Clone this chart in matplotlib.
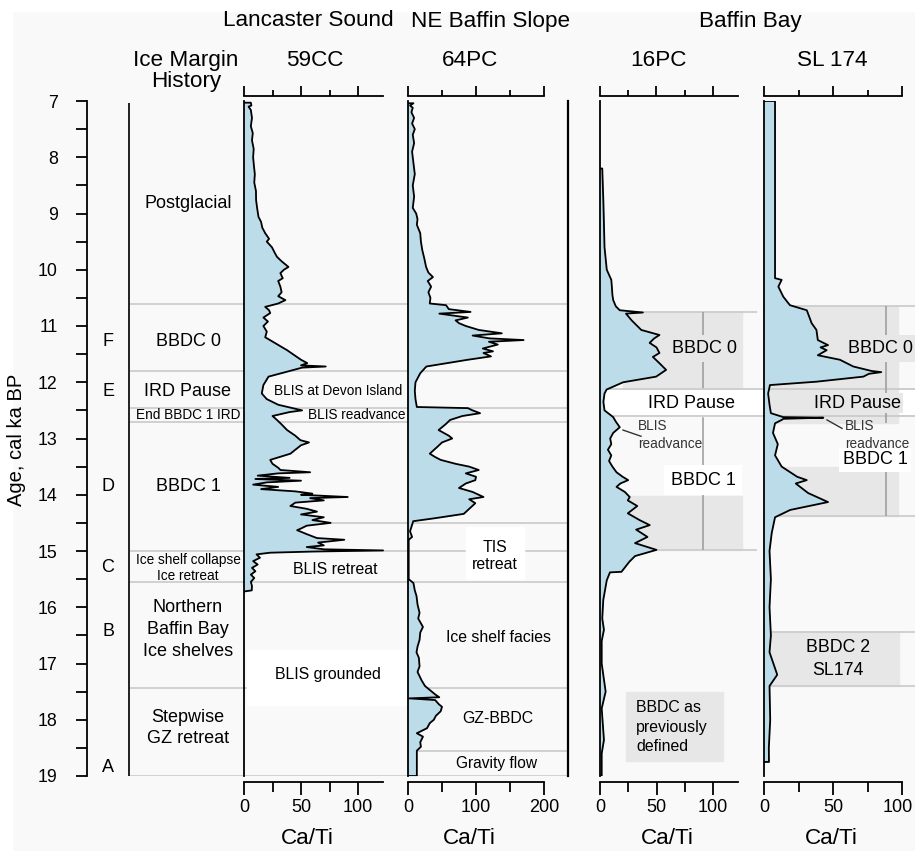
import numpy as np
import matplotlib.pyplot as plt
from matplotlib.patches import Rectangle
from matplotlib.transforms import ScaledTranslation

plt.rcParams['font.family'] = ['Liberation Sans', 'DejaVu Sans']

# ---------------------------------------------------------------- data
# (age ka BP, Ca/Ti)
core_59cc = [
    (7.03, 0), (7.03, 6), (7.08, 6.5), (7.1, 4), (7.16, 6), (7.3, 7), (7.45, 6),
    (7.57, 7.7), (7.7, 7), (7.85, 8.5), (8.0, 8), (8.17, 8.8), (8.3, 9.5), (8.45, 9),
    (8.6, 10.5), (8.76, 10.6), (8.9, 11.5), (9.06, 12.7), (9.15, 15), (9.25, 16),
    (9.35, 18.6), (9.45, 22), (9.5, 20), (9.6, 24.5), (9.7, 27), (9.77, 28.9),
    (9.85, 33), (9.9, 36), (9.95, 39), (10.0, 35), (10.06, 31.9), (10.15, 34),
    (10.2, 30), (10.3, 31.9), (10.4, 33), (10.47, 30), (10.54, 36.3), (10.6, 30),
    (10.66, 18.6), (10.72, 22), (10.77, 23), (10.85, 17), (10.92, 21), (11.0, 17),
    (11.1, 20), (11.2, 18.6), (11.43, 37.8), (11.6, 50), (11.66, 55.5), (11.7, 50),
    (11.72, 71.7), (11.74, 51), (11.8, 40), (11.9, 21.5), (12.05, 17), (12.2, 15.6),
    (12.3, 20), (12.4, 30), (12.5, 51), (12.53, 40), (12.6, 25), (12.67, 28.9),
    (12.75, 33), (12.85, 37.8), (12.95, 45), (13.03, 49.5), (13.07, 57), (13.12, 50),
    (13.2, 45), (13.27, 40.7), (13.38, 23), (13.45, 25), (13.52, 30), (13.56, 32),
    (13.6, 58), (13.62, 30), (13.66, 12), (13.7, 40), (13.72, 10), (13.75, 50),
    (13.78, 20), (13.82, 8), (13.86, 30), (13.9, 15), (13.94, 45), (13.98, 60),
    (14.0, 50), (14.04, 91), (14.06, 58), (14.1, 70), (14.14, 45), (14.2, 40.7),
    (14.25, 55), (14.3, 64), (14.35, 50), (14.4, 70), (14.45, 60), (14.5, 76),
    (14.55, 55), (14.6, 50), (14.63, 46.6), (14.7, 55), (14.77, 64), (14.8, 88),
    (14.85, 65), (14.9, 70), (14.93, 55), (14.97, 70), (14.99, 122), (15.01, 60),
    (15.03, 23), (15.06, 11), (15.12, 14), (15.18, 8), (15.24, 12), (15.3, 7),
    (15.36, 10), (15.42, 6), (15.48, 9), (15.55, 6), (15.62, 7), (15.7, 6.8),
    (15.72, 0),
]

core_64pc = [
    (7.04, 0), (7.04, 8), (7.08, 3), (7.12, 7), (7.2, 5), (7.3, 9), (7.4, 6),
    (7.5, 10), (7.6, 7), (7.75, 9), (7.9, 6), (8.1, 8), (8.3, 10), (8.5, 7),
    (8.7, 9), (8.9, 7), (9.0, 12), (9.1, 14), (9.2, 13), (9.35, 18), (9.5, 19),
    (9.65, 21), (9.8, 24), (9.95, 26.6), (10.05, 30), (10.13, 36.7), (10.2, 29),
    (10.3, 34), (10.4, 30), (10.5, 33), (10.6, 32), (10.63, 56), (10.7, 60),
    (10.75, 92), (10.78, 46), (10.82, 70), (10.85, 88), (10.9, 70), (10.95, 75),
    (11.0, 85), (11.07, 104), (11.13, 138), (11.17, 95), (11.22, 120), (11.25, 170),
    (11.28, 119), (11.33, 132), (11.4, 110), (11.45, 125), (11.48, 111), (11.54, 122),
    (11.6, 88), (11.72, 27), (11.84, 18), (12.0, 11), (12.15, 10), (12.3, 11),
    (12.44, 13), (12.46, 88), (12.5, 95), (12.55, 106), (12.6, 80), (12.67, 62),
    (12.75, 55), (12.85, 45), (12.95, 60), (13.0, 65), (13.07, 50), (13.15, 43),
    (13.27, 32), (13.33, 40), (13.38, 48), (13.45, 70), (13.5, 90), (13.56, 104),
    (13.62, 85), (13.68, 100), (13.74, 99), (13.8, 85), (13.88, 75), (13.95, 95),
    (14.04, 111), (14.08, 90), (14.15, 99), (14.25, 90), (14.34, 82), (14.42, 38),
    (14.47, 7.7), (14.57, 5), (14.65, 3), (14.75, 6), (14.8, 1), (15.5, 1),
    (15.57, 8), (15.7, 10), (15.8, 12.5), (15.95, 14), (16.1, 17), (16.2, 15),
    (16.35, 22), (16.45, 18), (16.58, 17), (16.7, 14), (16.8, 12.5), (16.9, 16),
    (17.05, 17), (17.15, 14), (17.3, 20), (17.4, 25), (17.47, 32), (17.55, 40),
    (17.6, 46), (17.62, 2), (17.65, 40), (17.72, 45), (17.77, 50), (17.85, 48),
    (17.93, 41), (18.0, 38), (18.06, 32), (18.15, 28), (18.24, 13), (18.3, 22),
    (18.4, 18), (18.48, 19), (18.55, 13), (18.95, 13), (19.0, 13), (19.0, 0),
]

core_16pc = [
    (8.2, 0), (8.2, 2), (8.5, 2.5), (8.8, 3), (9.2, 3.5), (9.6, 4), (10.0, 6),
    (10.18, 10), (10.3, 10.5), (10.45, 11), (10.54, 11.7), (10.65, 14), (10.72, 17.5),
    (10.76, 38), (10.78, 23), (10.9, 28), (11.0, 33), (11.07, 36.5), (11.16, 52.6),
    (11.22, 48), (11.3, 43.9), (11.38, 50), (11.48, 52.6), (11.55, 46.8), (11.65, 52),
    (11.78, 58.5), (11.9, 49.7), (12.0, 20.5), (12.13, 5.8), (12.2, 4), (12.35, 3),
    (12.5, 4), (12.62, 11.7), (12.7, 14), (12.8, 17.5), (12.9, 11.7), (13.0, 9),
    (13.1, 10), (13.2, 7), (13.3, 10), (13.4, 8), (13.5, 11), (13.6, 14.6),
    (13.68, 20), (13.74, 24.9), (13.8, 18), (13.86, 14.6), (13.95, 22), (14.04, 26.3),
    (14.1, 24.6), (14.2, 33), (14.33, 24.6), (14.45, 35), (14.54, 44), (14.62, 32),
    (14.75, 42), (14.86, 31), (14.98, 50), (15.09, 31), (15.19, 26), (15.37, 19),
    (15.38, 8.8), (15.52, 6), (15.87, 2.9), (16.2, 2), (16.4, 3.5), (16.6, 1.5),
    (17.0, 1.5), (17.5, 5), (17.8, 1.5), (18.36, 3.5), (18.6, 1.5), (19.0, 1.5),
    (19.0, 0),
]

core_sl174 = [
    (7.0, 0), (7.0, 8), (10.15, 8), (10.18, 12.8), (10.3, 10.4), (10.48, 14),
    (10.63, 18.8), (10.72, 31), (10.85, 33), (10.95, 34.5), (11.07, 38), (11.25, 39),
    (11.34, 46.4), (11.38, 41), (11.43, 45.4), (11.52, 39), (11.6, 55), (11.72, 64.7),
    (11.8, 78), (11.82, 85), (11.85, 76), (11.9, 72), (11.99, 38), (12.05, 4.3),
    (12.2, 3), (12.4, 4), (12.55, 5), (12.62, 14), (12.63, 43), (12.65, 14),
    (12.67, 12.8), (12.73, 8), (12.9, 6.5), (13.1, 10), (13.3, 8), (13.5, 12.8),
    (13.68, 24), (13.74, 31), (13.8, 23), (13.97, 32), (14.13, 46.4), (14.27, 19),
    (14.4, 8), (14.68, 5.6), (15.0, 4), (15.5, 5), (16.0, 4), (16.5, 5), (16.8, 4),
    (17.2, 9.6), (17.4, 4), (18.0, 4.5), (18.5, 3.5), (18.75, 3.6), (18.75, 0),
]

core_names = ['59CC', '64PC', '16PC', 'SL 174']
regions = ['Lancaster Sound', 'NE Baffin Slope', 'Baffin Bay']

# ice margin history column: (label, age of label centre, line spacing)
stages = [
    ('Postglacial', 8.83, 1.2),
    ('BBDC 0', 11.27, 1.2),
    ('IRD Pause', 12.17, 1.2),
    ('BBDC 1', 13.86, 1.2),
    ('Northern\nBaffin Bay\nIce shelves', 16.4, 1.4),
    ('Stepwise\nGZ retreat', 18.15, 1.35),
]
stage_small = [('End BBDC 1 IRD', 12.58), ('Ice shelf collapse\nIce retreat', 15.3)]
stage_letters = [('F', 11.27), ('E', 12.17), ('D', 13.86), ('C', 15.29),
                 ('B', 16.43), ('A', 18.84)]
stage_bounds = [10.6, 11.8, 12.45, 12.7, 15.0, 15.55, 17.43, 19.0]

# ---------------------------------------------------------------- style
W, H = 915, 851
Y_TOP, Y_BOT = 101, 776          # pixel rows of 7 and 19 ka
BG = '#f9f9f9'
FILL = '#bcdcea'
LINE_GREY = '#cdcdcd'
BOX_GREY = '#e7e7e7'

fig = plt.figure(figsize=(W / 100, H / 100), dpi=100, facecolor=BG)


def fx(x):
    return x / W


def fy(y):
    return 1 - y / H


# white margin strips of the original page
fig.patches.append(Rectangle((0, fy(11)), 1, 11 / H, transform=fig.transFigure,
                             color='white', zorder=-10))
fig.patches.append(Rectangle((0, 0), 12 / W, 1, transform=fig.transFigure,
                             color='white', zorder=-10))

AX_B = fy(Y_BOT)
AX_H = (Y_BOT - Y_TOP) / H

# background axes in pixel x units, age on y
bg = fig.add_axes([0, AX_B, 1, AX_H])
bg.set_xlim(0, W)
bg.set_ylim(19, 7)
bg.axis('off')

# age axis
ax_age = fig.add_axes([fx(87), AX_B, fx(40), AX_H])
ax_age.patch.set_alpha(0)
ax_age.set_ylim(19, 7)
for s in ('top', 'right', 'bottom'):
    ax_age.spines[s].set_visible(False)
ax_age.spines['left'].set_linewidth(1.3)
ax_age.set_xticks([])
ax_age.set_yticks(np.arange(7, 20))
ax_age.set_yticks(np.arange(7.5, 19, 1), minor=True)
ax_age.tick_params(axis='y', which='both', length=8, width=1.3, pad=13, labelsize=12.8)
fig.text(fx(17), fy(440), 'Age, cal ka BP', rotation=90, ha='center', va='center',
         fontsize=14.5)

# ice margin column
bg.vlines(129, 7.03, 19, color='#222222', lw=1.4)
bg.hlines(stage_bounds, 129, 568, color=LINE_GREY, lw=1.3, zorder=1)
bg.hlines(14.5, 244, 568, color=LINE_GREY, lw=1.3, zorder=1)
bg.hlines(18.55, 408, 568, color=LINE_GREY, lw=1.3, zorder=1)
for label, age, ls in stages:
    bg.text(188, age, label, ha='center', va='center', fontsize=13, linespacing=ls)
for label, age in stage_small:
    bg.text(188, age, label, ha='center', va='center', fontsize=9.8, linespacing=1.15)
for letter, age in stage_letters:
    bg.text(108, age, letter, ha='center', va='center', fontsize=13)

# ---------------------------------------------------------------- core panels
def core_panel(x0, x1, px_unit, span, major, minor, right=False):
    ax = fig.add_axes([fx(x0), AX_B, (x1 - x0) / W, AX_H])
    ax.patch.set_alpha(0)
    ax.set_xlim(0, (x1 - x0) / px_unit)
    ax.set_ylim(19, 7)
    ax.set_yticks([])
    ax.spines['top'].set_visible(False)
    ax.spines['right'].set_visible(right)
    ax.spines['right'].set_linewidth(1.6)
    ax.spines['left'].set_linewidth(1.3)
    ax.spines['bottom'].set_bounds(0, span)
    ax.spines['bottom'].set_position(('outward', 4.3))
    ax.spines['bottom'].set_linewidth(1.3)
    ax.set_xticks(major)
    ax.set_xticks(minor, minor=True)
    ax.tick_params(axis='x', which='major', length=9.5, width=1.3, pad=3, labelsize=13)
    ax.tick_params(axis='x', which='minor', length=7, width=1.3)
    # top scale
    top = ax.twiny()
    top.set_xlim(ax.get_xlim())
    for s in ('bottom', 'left', 'right'):
        top.spines[s].set_visible(False)
    top.spines['top'].set_bounds(0, span)
    top.spines['top'].set_position(('outward', 3.6))
    top.spines['top'].set_linewidth(1.3)
    top.set_xticks(major)
    top.set_xticks(minor, minor=True)
    top.set_xticklabels([])
    top.tick_params(axis='x', which='major', length=7, width=1.3)
    top.tick_params(axis='x', which='minor', length=4.5, width=1.3)
    return ax


def draw_core(ax, core):
    age, val = np.array(core).T
    ax.fill_betweenx(age, 0, val, color=FILL, lw=0, zorder=2)
    ax.plot(val, age, color='black', lw=1.3, zorder=3)


ax59 = core_panel(244, 408, 1.14, 122, [0, 50, 100], [25, 75])
ax64 = core_panel(408, 568, 0.68, 200, [0, 100, 200], [50, 150], right=True)
ax16 = core_panel(600, 764, 1.13, 122, [0, 50, 100], [25, 75])
ax174 = core_panel(764, 915, 1.38, 100, [0, 50, 100], [25, 75])

# keep the last tick label of the right-most panel inside the page
last = ax174.get_xticklabels()[-1]
last.set_transform(last.get_transform() + ScaledTranslation(-0.045, 0, fig.dpi_scale_trans))

draw_core(ax59, core_59cc)
draw_core(ax64, core_64pc)
draw_core(ax16, core_16pc)
draw_core(ax174, core_sl174)

# titles
for name, xc in zip(core_names, [315, 470, 658, 832]):
    fig.text(fx(xc), fy(60), name, ha='center', va='center', fontsize=16.2)
for name, xc in zip(regions, [308, 491, 750]):
    fig.text(fx(xc), fy(21), name, ha='center', va='center', fontsize=16.2)
fig.text(fx(186), fy(71), 'Ice Margin\nHistory', ha='center', va='center',
         fontsize=16.2, linespacing=1.05)
for xc in [307, 469, 667, 831]:
    fig.text(fx(xc), fy(838), 'Ca/Ti', ha='center', va='center', fontsize=16.2)

# ---------------------------------------------------------------- annotations
# Lancaster Sound
bg.add_patch(Rectangle((247, 16.76), 160, 0.98, color='white', zorder=1.5))
bg.text(338, 12.16, 'BLIS at Devon Island', ha='center', va='center', fontsize=9.8)
bg.text(357, 12.58, 'BLIS readvance', ha='center', va='center', fontsize=9.8)
bg.text(335, 15.32, 'BLIS retreat', ha='center', va='center', fontsize=11.4)
bg.text(328, 17.2, 'BLIS grounded', ha='center', va='center', fontsize=11.4, zorder=2)

# NE Baffin Slope
bg.add_patch(Rectangle((466, 14.57), 58, 0.93, color='white', zorder=1.5))
bg.text(495, 15.09, 'TIS\nretreat', ha='center', va='center', fontsize=11.4,
        linespacing=1.2, zorder=2)
bg.text(498, 16.53, 'Ice shelf facies', ha='center', va='center', fontsize=11.4)
bg.text(498, 17.97, 'GZ-BBDC', ha='center', va='center', fontsize=11.4)
bg.text(497, 18.77, 'Gravity flow', ha='center', va='center', fontsize=11.2)

# Baffin Bay: 16PC
bg.add_patch(Rectangle((623, 10.75), 119, 1.37, color=BOX_GREY, zorder=1))
bg.add_patch(Rectangle((623, 14.02), 119, 0.96, color=BOX_GREY, zorder=1))
bg.hlines([10.75, 14.98], 600, 757, color=LINE_GREY, lw=1.3, zorder=1.1)
bg.vlines(703, 10.75, 14.98, color='#9a9a9a', lw=1.1, zorder=1.2)
bg.add_patch(Rectangle((603, 12.13), 312, 0.47, color='white', zorder=1.3))
bg.hlines([12.12, 12.6], 600, 915, color=LINE_GREY, lw=1.3, zorder=1.4)
bg.text(705, 11.4, 'BBDC 0', ha='center', va='center', fontsize=13, zorder=2,
        bbox=dict(boxstyle='square,pad=0.25', fc=BOX_GREY, ec='none'))
bg.text(692, 12.37, 'IRD Pause', ha='center', va='center', fontsize=13, zorder=2)
bg.text(703, 13.74, 'BBDC 1', ha='center', va='center', fontsize=13, zorder=2,
        bbox=dict(boxstyle='square,pad=0.35', fc='white', ec='none'))
bg.text(638, 12.94, 'BLIS\nreadvance', ha='left', va='center', fontsize=9.8,
        color='#333333', linespacing=1.3, zorder=2)
bg.plot([623, 641], [12.85, 12.96], color='#333333', lw=1, zorder=2)

# Baffin Bay: SL 174
bg.add_patch(Rectangle((770, 10.64), 128, 2.08, color=BOX_GREY, zorder=1.35))
bg.add_patch(Rectangle((770, 13.5), 128, 0.88, color=BOX_GREY, zorder=1.35))
bg.hlines([12.12, 12.6], 770, 915, color=LINE_GREY, lw=1.3, zorder=1.4)
bg.hlines([10.64, 14.38], 764, 915, color=LINE_GREY, lw=1.3, zorder=1.4)
bg.vlines(886, 10.64, 12.72, color='#9a9a9a', lw=1.1, zorder=1.5)
bg.vlines(886, 13.5, 14.38, color='#9a9a9a', lw=1.1, zorder=1.5)
bg.text(880, 11.4, 'BBDC 0', ha='center', va='center', fontsize=13, zorder=2,
        bbox=dict(boxstyle='square,pad=0.25', fc=BOX_GREY, ec='none'))
bg.text(858, 12.37, 'IRD Pause', ha='center', va='center', fontsize=13, zorder=2,
        bbox=dict(boxstyle='square,pad=0.1', fc=BOX_GREY, ec='none'))
bg.text(845, 12.94, 'BLIS\nreadvance', ha='left', va='center', fontsize=9.8,
        color='#333333', linespacing=1.3, zorder=2)
bg.plot([827, 842], [12.67, 12.82], color='#333333', lw=1, zorder=2)
bg.text(875, 13.38, 'BBDC 1', ha='center', va='center', fontsize=13, zorder=2,
        bbox=dict(boxstyle='square,pad=0.2', fc='white', ec='none'))
bg.add_patch(Rectangle((770, 16.44), 129, 0.96, color=BOX_GREY, zorder=1))
bg.hlines([16.44, 17.4], 764, 915, color=LINE_GREY, lw=1.3, zorder=1.1)
bg.text(838, 16.92, 'BBDC 2\nSL174', ha='center', va='center', fontsize=12.8,
        linespacing=1.45, zorder=2)

# legend-like box
bg.add_patch(Rectangle((626, 17.5), 97, 1.23, color=BOX_GREY, zorder=1))
bg.text(636, 18.13, 'BBDC as\npreviously\ndefined', ha='left', va='center',
        fontsize=11.4, linespacing=1.35, zorder=2)

fig.savefig('out.png', dpi=100, facecolor=BG)
